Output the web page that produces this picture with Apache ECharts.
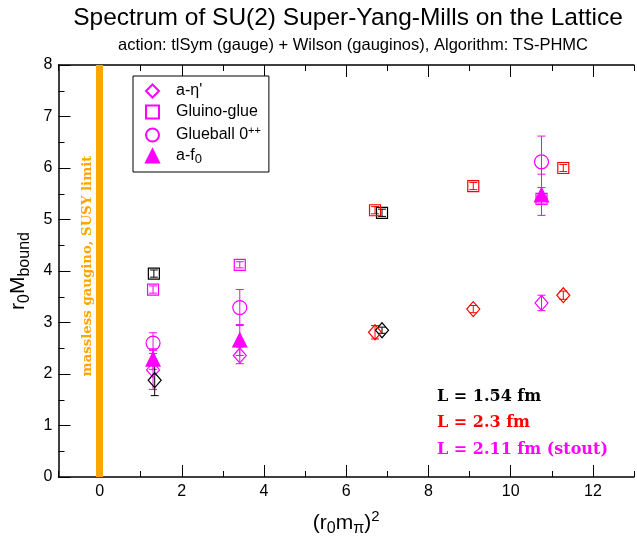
<!DOCTYPE html>
<html><head><meta charset="utf-8">
<script src="https://cdn.jsdelivr.net/npm/echarts@6/dist/echarts.min.js"></script>
<style>html,body{margin:0;padding:0;background:#fff}#c{width:637px;height:542px}</style>
</head><body><div id="c"></div>
<script>
// [x, y, error]
const etaBlack  = [[1.34, 1.88, 0.30], [6.87, 2.85, 0.06]];
const glueBlack = [[1.32, 3.95, 0.07], [6.87, 5.13, 0.07]];
const etaRed    = [[6.70, 2.81, 0.13], [9.09, 3.26, 0.07], [11.28, 3.53, 0.08]];
const glueRed   = [[6.70, 5.18, 0.07], [9.09, 5.65, 0.07], [11.28, 6.00, 0.07]];
const etaMag    = [[1.30, 2.08, 0.38], [3.41, 2.36, 0.16], [10.75, 3.38, 0.15]];
const glueMag   = [[1.30, 3.64, 0.07], [3.41, 4.12, 0.06], [10.75, 5.40, 0.10]];
const ballMag   = [[1.30, 2.60, 0.20], [3.41, 3.29, 0.35], [10.75, 6.12, 0.50]];
const f0Mag     = [[1.30, 2.29, 0.20], [3.41, 2.66, 0.30], [10.75, 5.48, 0.40]];
const legendNames = ["a-η'", 'Gluino-glue', 'Glueball 0++', 'a-f0'];
const volumeLabels = ['L = 1.54 fm', 'L = 2.3 fm', 'L = 2.11 fm (stout)'];

const BLACK = '#000000', RED = '#ff0000', MAG = '#ff00ff', ORANGE = '#ffa500';
const FONT = 'Liberation Sans';

function errSeries(arr, color) {
  return {
    type: 'custom', xAxisIndex: 0, yAxisIndex: 0, silent: true, z: 3,
    data: arr,
    encode: {x: 0, y: 1},
    renderItem: function (params, api) {
      const x = api.value(0), y = api.value(1), e = api.value(2);
      const t = api.coord([x, y + e]), b = api.coord([x, y - e]);
      const c = 4, st = {stroke: color, lineWidth: 1};
      return {type: 'group', children: [
        {type: 'line', shape: {x1: t[0], y1: t[1], x2: b[0], y2: b[1]}, style: st},
        {type: 'line', shape: {x1: t[0] - c, y1: t[1], x2: t[0] + c, y2: t[1]}, style: st},
        {type: 'line', shape: {x1: b[0] - c, y1: b[1], x2: b[0] + c, y2: b[1]}, style: st}
      ]};
    }
  };
}
function pts(name, arr, color, symbol, size, filled) {
  return {
    name: name, type: 'scatter', xAxisIndex: 0, yAxisIndex: 0, z: 4,
    symbol: symbol, symbolSize: size,
    itemStyle: {color: filled ? color : 'rgba(0,0,0,0)', borderColor: color, borderWidth: 1.2, opacity: 1},
    data: arr.map(d => [d[0], d[1]])
  };
}

const series = [
  Object.assign(pts(legendNames[0], etaMag, MAG, 'diamond', [13, 15], false), {
    markLine: {silent: true, symbol: ['none', 'none'], z: 1, label: {show: false},
      lineStyle: {color: ORANGE, width: 7, type: 'solid'}, data: [{xAxis: 0}]}
  }),
  pts(legendNames[1], glueMag, MAG, 'rect', 11, false),
  pts(legendNames[2], ballMag, MAG, 'circle', 14, false),
  pts(legendNames[3], f0Mag, MAG, 'triangle', 14, true),
  pts('eta L1.54', etaBlack, BLACK, 'diamond', [13, 15], false),
  pts('glue L1.54', glueBlack, BLACK, 'rect', 11, false),
  pts('eta L2.3', etaRed, RED, 'diamond', [13, 15], false),
  pts('glue L2.3', glueRed, RED, 'rect', 11, false),
  errSeries(etaMag, MAG), errSeries(glueMag, MAG), errSeries(ballMag, MAG), errSeries(f0Mag, MAG),
  errSeries(etaBlack, BLACK), errSeries(glueBlack, BLACK),
  errSeries(etaRed, RED), errSeries(glueRed, RED)
];

const tickAxis = (pos) => ({
  type: 'value', position: pos, gridIndex: 0, min: -1, max: 13, interval: 2,
  axisLine: {show: true, onZero: false, lineStyle: {color: '#000', width: 1.5}},
  axisTick: {show: true, inside: true, length: 6, lineStyle: {color: '#000', width: 1}},
  minorTick: {show: true, splitNumber: 2, length: 12, lineStyle: {color: '#000', width: 1}},
  axisLabel: {show: false}, splitLine: {show: false}, minorSplitLine: {show: false}
});

const labelRich = {
  a: {fontFamily: FONT, fontSize: 21, color: '#000', lineHeight: 28, verticalAlign: 'middle'},
  s: {fontFamily: FONT, fontSize: 16, color: '#000', lineHeight: 14, verticalAlign: 'bottom'},
  p: {fontFamily: FONT, fontSize: 15, color: '#000', lineHeight: 12, verticalAlign: 'top'}
};

const option = {
  backgroundColor: '#fff',
  animation: false,
  title: [
    {text: 'Spectrum of SU(2) Super-Yang-Mills on the Lattice', left: 348, top: 6, textAlign: 'center', padding: 0,
     textStyle: {fontFamily: FONT, fontSize: 24.5, fontWeight: 'normal', color: '#000'}},
    {text: 'action: tlSym (gauge) + Wilson (gauginos), Algorithm: TS-PHMC', left: 353, top: 37, textAlign: 'center', padding: 0,
     textStyle: {fontFamily: FONT, fontSize: 16.5, fontWeight: 'normal', color: '#000'}}
  ],
  grid: {left: 58, right: -11, top: 65, bottom: 61, containLabel: false},
  legend: {
    data: legendNames, orient: 'vertical', left: 133, top: 76,
    itemWidth: 13, itemHeight: 13, itemGap: 5, padding: [7, 8, 6, 12],
    borderColor: '#000', borderWidth: 1, backgroundColor: '#fff',
    selectedMode: false,
    formatter: function (n) {
      if (n === 'Glueball 0++') return '{t|Glueball 0}{sup|++}';
      if (n === 'a-f0') return '{t|a-f}{sub|0}';
      return '{t|' + n + '}';
    },
    textStyle: {
      rich: {
        t: {fontFamily: FONT, fontSize: 16, color: '#000', lineHeight: 20, verticalAlign: 'middle', padding: [0, 0, 0, 12]},
        sup: {fontFamily: FONT, fontSize: 11, color: '#000', lineHeight: 8, verticalAlign: 'top'},
        sub: {fontFamily: FONT, fontSize: 13, color: '#000', lineHeight: 8, verticalAlign: 'bottom'}
      }
    }
  },
  xAxis: [
    tickAxis('bottom'),
    {
      type: 'value', position: 'bottom', gridIndex: 0, min: -1, max: 13, interval: 1,
      axisLine: {show: false}, axisTick: {show: false}, splitLine: {show: false},
      axisLabel: {show: true, margin: 7, fontFamily: FONT, fontSize: 16, color: '#000',
        formatter: v => (Math.round(v) % 2 === 0 ? String(Math.round(v)) : '')},
      name: '{a|(r}{s|0}{a|m}{s|π}{a|)}{p|2}', nameLocation: 'middle', nameGap: 32,
      nameTextStyle: {rich: labelRich}
    },
    tickAxis('top')
  ],
  yAxis: {
    type: 'value', min: 0, max: 8, interval: 1,
    axisLine: {show: true, onZero: false, lineStyle: {color: '#000', width: 1.5}},
    axisTick: {show: true, inside: true, length: 12, lineStyle: {color: '#000', width: 1}},
    minorTick: {show: true, splitNumber: 2, length: 6, lineStyle: {color: '#000', width: 1}},
    splitLine: {show: false},
    axisLabel: {margin: 6, fontFamily: FONT, fontSize: 16, color: '#000'},
    name: '{a|r}{s|0}{a|M}{s|bound}', nameLocation: 'middle', nameGap: 26, nameRotate: 90,
    nameTextStyle: {rich: labelRich}
  },
  graphic: [
    {type: 'text', x: 88, y: 266, rotation: Math.PI / 2, z: 10,
     style: {text: 'massless gaugino, SUSY limit', fill: ORANGE, font: 'bold 13.3px "DejaVu Serif"', align: 'center', verticalAlign: 'middle'}},
    {type: 'text', x: 437, y: 397, z: 10,
     style: {text: volumeLabels[0], fill: BLACK, font: 'bold 16px "DejaVu Serif"', align: 'left', verticalAlign: 'middle'}},
    {type: 'text', x: 437, y: 423, z: 10,
     style: {text: volumeLabels[1], fill: RED, font: 'bold 16px "DejaVu Serif"', align: 'left', verticalAlign: 'middle'}},
    {type: 'text', x: 437, y: 450, z: 10,
     style: {text: volumeLabels[2], fill: MAG, font: 'bold 16px "DejaVu Serif"', align: 'left', verticalAlign: 'middle'}}
  ],
  series: series
};
const chart = echarts.init(document.getElementById('c'), null, {renderer: 'canvas'});
chart.setOption(option);
</script></body></html>
